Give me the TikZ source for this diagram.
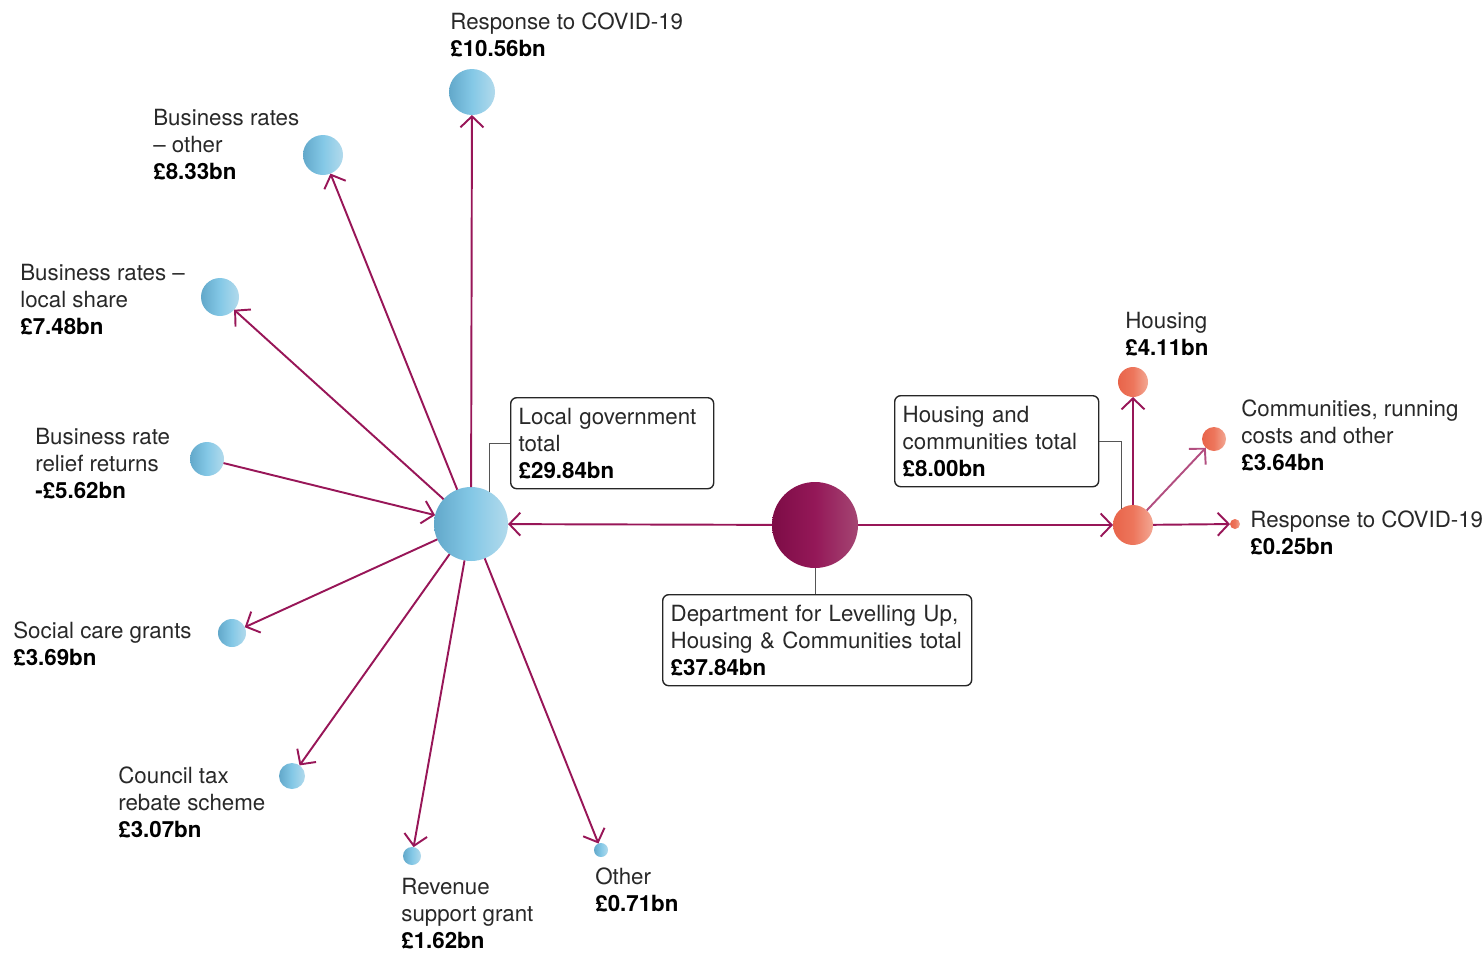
\documentclass[tikz,border=0pt]{standalone}
\usepackage{fontspec}
\setmainfont{TeX Gyre Heros}
\usetikzlibrary{arrows.meta}

\definecolor{flowc}{RGB}{152,22,88}
\definecolor{flowlight}{RGB}{178,78,128}
\definecolor{txt}{RGB}{40,40,40}
\definecolor{tiec}{RGB}{85,85,85}
\definecolor{blueL}{RGB}{98,168,202}
\definecolor{blueM}{RGB}{132,200,230}
\definecolor{blueR}{RGB}{178,218,236}
\definecolor{plumL}{RGB}{125,12,70}
\definecolor{plumM}{RGB}{148,24,88}
\definecolor{plumR}{RGB}{164,70,115}
\definecolor{orangeL}{RGB}{232,100,74}
\definecolor{orangeM}{RGB}{237,118,92}
\definecolor{orangeR}{RGB}{243,168,148}

\begin{document}
\begin{tikzpicture}[x=0.2mm, y=-0.2mm, font=\fontsize{12.7}{15.4}\selectfont]
    \tikzstyle{every node}=[align=left, text=txt];
    \tikzstyle{ball} = [circle, inner sep=0pt, outer sep=0pt]
    \tikzstyle{bblue} = [ball, left color=blueL, right color=blueR, middle color=blueM]
    \tikzstyle{bplum} = [ball, left color=plumL, right color=plumR, middle color=plumM]
    \tikzstyle{borange} = [ball, left color=orangeL, right color=orangeR, middle color=orangeM]
    \tikzstyle{lbl} = [anchor=north west, inner sep=0pt]
    \tikzstyle{totalbox} = [draw=black!85, line width=0.8pt, rounded corners=1.2mm, anchor=north west, inner xsep=1.6mm, minimum height=18.2mm]
    \tikzstyle{flow} = [->, draw=flowc, line width=1.1pt, >={Straight Barb[length=2.2mm, width=4.6mm]}]
    \tikzstyle{tie} = [draw=tiec, line width=0.5pt]

    \useasboundingbox (0,0) rectangle (1483,952);

    % circles
    \node[bplum, minimum size=17.2mm] (dept) at (815,525) {};
    \node[bblue, minimum size=14.8mm] (lg) at (471,524) {};
    \node[borange, minimum size=8mm] (hc) at (1133,525) {};

    \node[bblue, minimum size=9.2mm] (lgcovid) at (472,92) {};
    \node[bblue, minimum size=8mm] (brother) at (323,155) {};
    \node[bblue, minimum size=7.6mm] (brlocal) at (220,297) {};
    \node[bblue, minimum size=6.8mm] (brrelief) at (207,459) {};
    \node[bblue, minimum size=5.6mm] (social) at (232,633) {};
    \node[bblue, minimum size=5.2mm] (ctax) at (292,776) {};
    \node[bblue, minimum size=3.6mm] (rsg) at (412,856) {};
    \node[bblue, minimum size=2.8mm] (lgother) at (601,850) {};

    \node[borange, minimum size=6mm] (housing) at (1133,382) {};
    \node[borange, minimum size=4.8mm] (comm) at (1214,439) {};
    \node[borange, minimum size=2mm] (hccovid) at (1235,524) {};

    % labels
    \node[lbl] (lgcovidtxt) at (450,12) {Response to COVID-19\\\textbf{\color{black}£10.56bn}};
    \node[lbl] (brothertxt) at (153,109) {Business rates\\– other\\\textbf{\color{black}£8.33bn}};
    \node[lbl] (brlocaltxt) at (20,264) {Business rates –\\local share\\\textbf{\color{black}£7.48bn}};
    \node[lbl] (brrelieftxt) at (35,428) {Business rate\\relief returns\\\textbf{\color{black}-£5.62bn}};
    \node[lbl] (socialtxt) at (13,621) {Social care grants\\\textbf{\color{black}£3.69bn}};
    \node[lbl] (ctaxtxt) at (118,766) {Council tax\\rebate scheme\\\textbf{\color{black}£3.07bn}};
    \node[lbl] (rsgtxt) at (401,878) {Revenue\\support grant\\\textbf{\color{black}£1.62bn}};
    \node[lbl] (lgothertxt) at (595,867) {Other\\\textbf{\color{black}£0.71bn}};
    \node[lbl] (housingtxt) at (1125,312) {Housing\\\textbf{\color{black}£4.11bn}};
    \node[lbl] (commtxt) at (1241,399) {Communities, running\\costs and other\\\textbf{\color{black}£3.64bn}};
    \node[lbl] (hccovidtxt) at (1250,510) {Response to COVID-19\\\textbf{\color{black}£0.25bn}};

    % total boxes
    \node[totalbox, text width=37.4mm] (lgbox) at (510,397) {Local government\\total\\\textbf{\color{black}£29.84bn}};
    \node[totalbox, text width=37.6mm] (hcbox) at (894,395) {Housing and\\communities total\\\textbf{\color{black}£8.00bn}};
    \node[totalbox, text width=58.6mm] (deptbox) at (662,594) {Department for Levelling Up,\\Housing \& Communities total\\\textbf{\color{black}£37.84bn}};

    \draw[tie] (lgbox.west) -| (lg.60);
    \draw[tie] (hcbox.east) -| (hc.127);
    \draw[tie] (dept.south) -- (dept.south |- deptbox.north);

    % flows
    \draw[flow] (dept) -- (lg);
    \draw[flow] (dept) -- (hc);

    \draw[flow] (lg) -- (lgcovid);
    \draw[flow] (lg) -- (brother);
    \draw[flow] (lg) -- (brlocal);
    \draw[flow] (brrelief) -- (lg);
    \draw[flow] (lg) -- (social);
    \draw[flow] (lg) -- (ctax);
    \draw[flow] (lg) -- (rsg);
    \draw[flow] (lg) -- (lgother);

    \draw[flow] (hc) -- (housing);
    \draw[flow, draw=flowlight] (hc) -- (comm);
    \draw[flow] (hc) -- (hccovid);

\end{tikzpicture}
\end{document}
